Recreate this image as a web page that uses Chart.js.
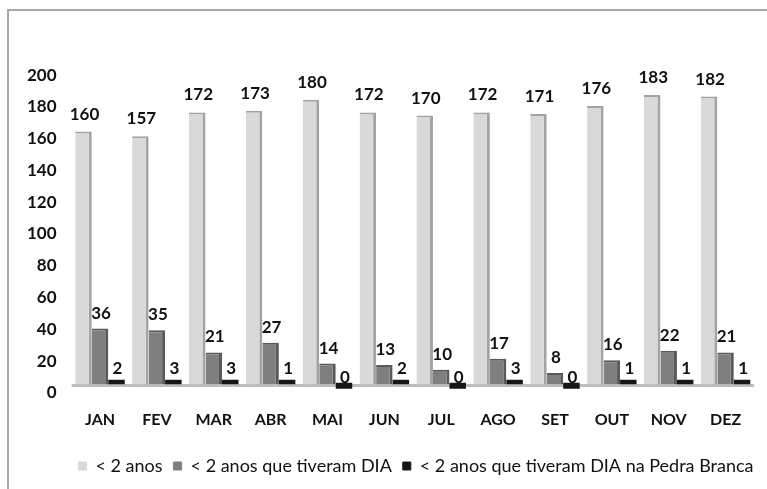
<!DOCTYPE html>
<html>
<head>
<meta charset="utf-8">
<script src="https://cdn.jsdelivr.net/npm/chart.js@4.4.1/dist/chart.umd.min.js"></script>
<style>
  html, body { margin: 0; padding: 0; background: #fff; overflow: hidden; }
  #frame { position: absolute; left: 7px; top: 9px; width: 900px; height: 600px; border: 2px solid #a6a6a6; }
  #wrap { position: absolute; left: 0; top: 0; width: 820px; height: 500px; }
</style>
</head>
<body>
<div id="frame"></div>
<div id="wrap"><canvas id="chart"></canvas></div>
<script>
// ------- DATA -------
const months = ["JAN", "FEV", "MAR", "ABR", "MAI", "JUN", "JUL", "AGO", "SET", "OUT", "NOV", "DEZ"];
const menores2 = [160, 157, 172, 173, 180, 172, 170, 172, 171, 176, 183, 182];
const comDIA = [36, 35, 21, 27, 14, 13, 10, 17, 8, 16, 22, 21];
const comDIAPedraBranca = [2, 3, 3, 1, 0, 2, 0, 3, 0, 1, 1, 1];
const yTicks = [0, 20, 40, 60, 80, 100, 120, 140, 160, 180, 200];

const FONT = "Lato, 'Open Sans', sans-serif";

// value labels over each bar
const barLabels = {
    id: "barLabels",
    afterDatasetsDraw(chart) {
        const ctx = chart.ctx;
        const lift = [12, 10, 6];
        ctx.save();
        ctx.font = "bold 17px " + FONT;
        ctx.fillStyle = "#111";
        ctx.textAlign = "center";
        ctx.textBaseline = "alphabetic";
        chart.data.datasets.forEach((ds, i) => {
            chart.getDatasetMeta(i).data.forEach((bar, j) => {
                ctx.fillText(ds.data[j], bar.x + 1, bar.y - lift[i]);
            });
        });
        ctx.restore();
    }
};

new Chart(document.getElementById("chart"), {
    type: "bar",
    data: {
        labels: months,
        datasets: [{
            label: "< 2 anos",
            data: menores2,
            backgroundColor: "#d9d9d9",
            borderColor: "#a3a3a3",
            borderWidth: { top: 2, right: 3, left: 0, bottom: 0 },
            borderSkipped: false,
            yAxisID: "yb"
        }, {
            label: "< 2 anos que tiveram DIA",
            data: comDIA,
            backgroundColor: "#7f7f7f",
            borderColor: "#595959",
            borderWidth: { top: 2, right: 3, left: 0, bottom: 0 },
            borderSkipped: false,
            yAxisID: "yb"
        }, {
            label: "< 2 anos que tiveram DIA na Pedra Branca",
            data: comDIAPedraBranca,
            backgroundColor: "#161616",
            borderWidth: 0,
            minBarLength: 6,
            yAxisID: "yb"
        }]
    },
    options: {
        responsive: true,
        maintainAspectRatio: false,
        animation: false,
        layout: { padding: { left: 12, top: 67, right: 0, bottom: 15 } },
        datasets: { bar: { categoryPercentage: 0.87, barPercentage: 1.0 } },
        scales: {
            x: {
                grid: { display: false, drawTicks: false },
                border: { display: false },
                ticks: { padding: 17, color: "#111", font: { family: FONT, size: 16, weight: "bold" } }
            },
            y: {
                position: "left",
                min: 0,
                max: 205.06,
                grid: { display: false, drawTicks: false },
                border: { display: false },
                afterBuildTicks: (s) => { s.ticks = yTicks.map(v => ({ value: v })); },
                ticks: { padding: 15, color: "#111", font: { family: FONT, size: 17, weight: "bold" } }
            },
            yb: {
                position: "right",
                min: -4.43,
                max: 200.6,
                afterBuildTicks: (s) => { s.ticks = [{ value: 0 }]; },
                afterFit: (s) => { s.width = 66; },
                grid: { color: "#bdbdbd", lineWidth: 3, drawTicks: false },
                border: { display: false },
                ticks: { display: false }
            }
        },
        plugins: {
            tooltip: { enabled: false },
            legend: {
                position: "bottom",
                labels: {
                    boxWidth: 8,
                    boxHeight: 8,
                    padding: 11,
                    color: "#111",
                    font: { family: FONT, size: 18 },
                    generateLabels: (chart) => Chart.defaults.plugins.legend.labels.generateLabels(chart)
                        .map(l => Object.assign(l, { strokeStyle: l.fillStyle, lineWidth: 1 }))
                }
            }
        }
    },
    plugins: [barLabels]
});
</script>
</body>
</html>
